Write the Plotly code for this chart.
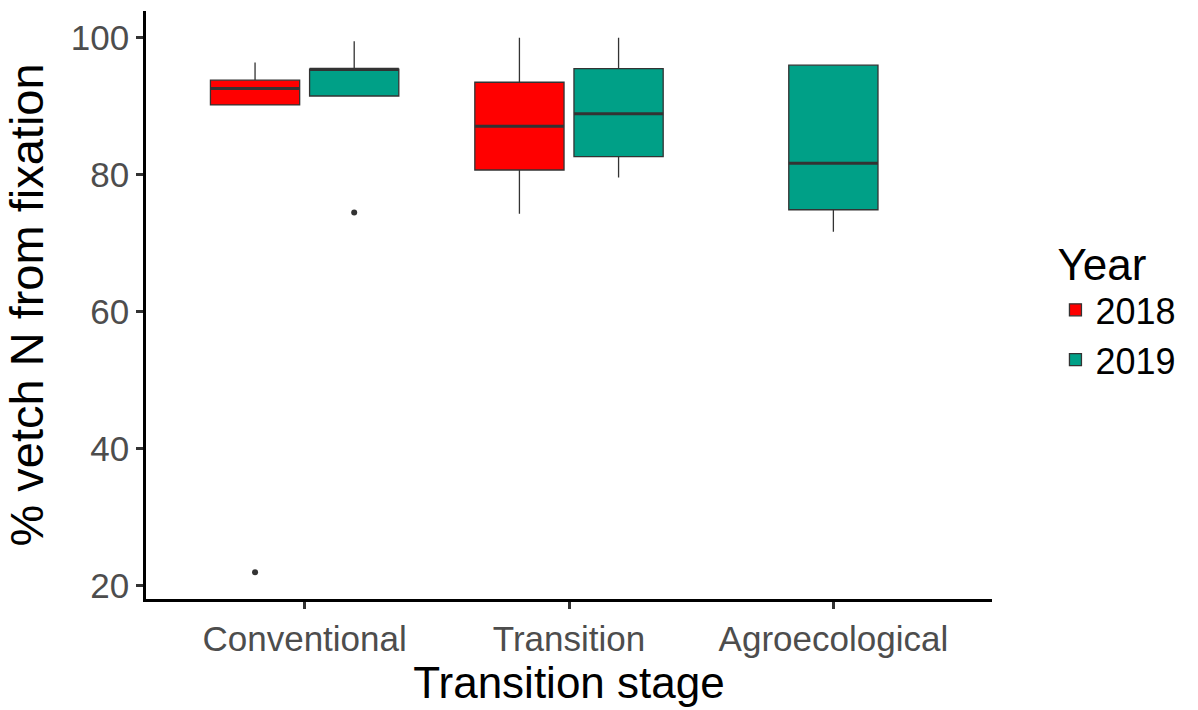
import plotly.graph_objects as go

stages = ["Conventional", "Transition", "Agroecological"]
years = ["2018", "2019"]
colors = {"2018": "#FF0000", "2019": "#00A087"}

# per stage statistics (None = no data)
q1 = {"2018": [90.2, 80.7, None], "2019": [91.5, 82.65, 74.9]}
median = {"2018": [92.6, 87.1, None], "2019": [95.4, 88.9, 81.7]}
q3 = {"2018": [93.8, 93.5, None], "2019": [95.4, 95.5, 96.0]}
lower = {"2018": [90.2, 74.3, None], "2019": [91.5, 79.6, 71.7]}
upper = {"2018": [96.4, 100.0, None], "2019": [99.5, 100.0, 96.0]}
outliers = {"2018": [("Conventional", 22.0)], "2019": [("Conventional", 74.5)]}

dodge = 0.75
box_w = dodge / 2 * 0.9


def position(stage_idx, year):
    present = [y for y in years if median[y][stage_idx] is not None]
    n = len(present)
    k = present.index(year)
    return (stage_idx + 1) + (k - (n - 1) / 2) * dodge / 2


fig = go.Figure()
for yr in years:
    idx = [i for i in range(len(stages)) if median[yr][i] is not None]
    xs = [position(i, yr) for i in idx]
    fig.add_trace(go.Box(
        x=xs,
        q1=[q1[yr][i] for i in idx],
        median=[median[yr][i] for i in idx],
        q3=[q3[yr][i] for i in idx],
        lowerfence=[lower[yr][i] for i in idx],
        upperfence=[upper[yr][i] for i in idx],
        width=box_w,
        whiskerwidth=0,
        fillcolor=colors[yr],
        line=dict(color="#333333", width=1.3),
        name=yr,
        boxpoints=False,
    ))
    # thicker median lines
    mx, my = [], []
    for i, xc in zip(idx, xs):
        mx += [xc - box_w / 2, xc + box_w / 2, None]
        my += [median[yr][i], median[yr][i], None]
    fig.add_trace(go.Scatter(x=mx, y=my, mode="lines",
                             line=dict(color="#333333", width=3),
                             showlegend=False, hoverinfo="skip"))
    # outliers
    ox = [position(stages.index(s), yr) for s, v in outliers[yr]]
    oy = [v for s, v in outliers[yr]]
    fig.add_trace(go.Scatter(x=ox, y=oy, mode="markers",
                             marker=dict(color="#333333", size=6),
                             showlegend=False, hoverinfo="skip"))

fig.update_layout(
    width=1198, height=710,
    margin=dict(l=146, r=206, t=11, b=111),
    plot_bgcolor="white", paper_bgcolor="white",
    boxmode="overlay",
    font=dict(family="Liberation Sans, Arial, sans-serif", color="black"),
    legend=dict(
        title=dict(text="Year", font=dict(size=44)),
        font=dict(size=36),
        x=1.075, xanchor="left", y=0.64, yanchor="top",
        tracegroupgap=0,
    ),
)
fig.update_xaxes(
    range=[0.4, 3.6],
    tickvals=[1, 2, 3], ticktext=stages,
    showline=True, linecolor="black", linewidth=2.5,
    ticks="outside", ticklen=7, tickwidth=2.5, tickcolor="#333333",
    tickfont=dict(size=35, color="#4D4D4D"),
    showgrid=False, zeroline=False,
    title=dict(text="Transition stage", font=dict(size=44), standoff=9),
)
fig.update_yaxes(
    range=[18.1, 103.9],
    tickvals=[20, 40, 60, 80, 100],
    showline=True, linecolor="black", linewidth=2.5,
    ticks="outside", ticklen=7, tickwidth=2.5, tickcolor="#333333",
    tickfont=dict(size=35, color="#4D4D4D"),
    showgrid=False, zeroline=False,
    title=dict(text="% vetch N from fixation", font=dict(size=47), standoff=13),
)

fig.write_html("out.html")
